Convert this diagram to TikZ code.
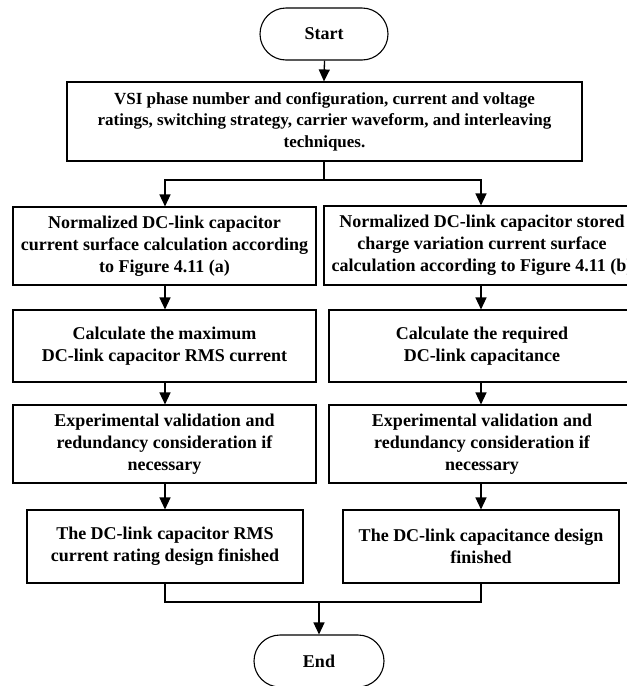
\documentclass[tikz,border=0pt]{standalone}
\usepackage{fontspec}
\setmainfont{Liberation Serif}
\usetikzlibrary{arrows.meta,shapes.misc}
\begin{document}
\begin{tikzpicture}[x=1pt,y=-1pt,
  every node/.style={font=\bfseries\fontsize{18}{22}\selectfont, align=center, inner sep=0pt},
  procbox/.style={draw, line width=1.1pt, rectangle},
  termbox/.style={draw, line width=1.1pt, rounded rectangle, minimum width=128pt, minimum height=52pt},
  flow/.style={line width=1.3pt, -{Triangle[width=11pt,length=12pt]}},
  link/.style={line width=1.3pt}]
\useasboundingbox (0,0) rectangle (627,686);
\clip (0,0) rectangle (627,686);

% terminals
\node[termbox] (start) at (324,34) {Start};
\node[termbox, minimum width=130pt] (end) at (319,661) {End};

% input data
\node[procbox, minimum width=515pt, minimum height=79pt,
      font=\bfseries\fontsize{17}{21.5}\selectfont] (vsi) at (324.5,121.5)
  {VSI phase number and configuration, current and voltage\\
   ratings, switching strategy, carrier waveform, and interleaving\\
   techniques.};

% left column: RMS current rating
\node[procbox, minimum width=303pt, minimum height=78pt] (l1) at (164.5,246)
  {Normalized DC-link capacitor\\ current surface calculation according\\ to Figure 4.11 (a)};
\node[procbox, minimum width=303pt, minimum height=72pt] (l2) at (164.5,346)
  {Calculate the maximum\\ DC-link capacitor RMS current};
\node[procbox, minimum width=303pt, minimum height=78pt] (l3) at (164.5,444)
  {Experimental validation and\\ redundancy consideration if\\ necessary};
\node[procbox, minimum width=276pt, minimum height=73pt] (l4) at (165,546.5)
  {The DC-link capacitor RMS\\ current rating design finished};

% right column: capacitance
\node[procbox, minimum width=316pt, minimum height=79pt] (r1) at (482,245.5)
  {Normalized DC-link capacitor stored\\ charge variation current surface\\ calculation according to Figure 4.11 (b)};
\node[procbox, minimum width=306pt, minimum height=72pt] (r2) at (482,346)
  {Calculate the required\\ DC-link capacitance};
\node[procbox, minimum width=306pt, minimum height=78pt] (r3) at (482,444)
  {Experimental validation and\\ redundancy consideration if\\ necessary};
\node[procbox, minimum width=276pt, minimum height=73pt] (r4) at (481,546.5)
  {The DC-link capacitance design\\ finished};

% branch and join points
\coordinate (split) at (324,180);
\coordinate (join) at (319,602);

% connectors
\draw[flow] (start.south -| vsi.north) -- (vsi.north -| start.south);
\draw[link] (vsi.south -| split) -- (split);
\draw[flow] (split) -| (l1.north -| 165,0);
\draw[flow] (split) -| (r1.north -| 481,0);
\draw[flow] (l1.south -| 165,0) -- (l2.north -| 165,0);
\draw[flow] (l2.south -| 165,0) -- (l3.north -| 165,0);
\draw[flow] (l3.south -| 165,0) -- (l4.north -| 165,0);
\draw[flow] (r1.south -| 481,0) -- (r2.north -| 481,0);
\draw[flow] (r2.south -| 481,0) -- (r3.north -| 481,0);
\draw[flow] (r3.south -| 481,0) -- (r4.north -| 481,0);
\draw[link] (l4.south -| 165,0) |- (join) -| (r4.south -| 481,0);
\draw[flow] (join) -- (end.north);
\end{tikzpicture}
\end{document}
